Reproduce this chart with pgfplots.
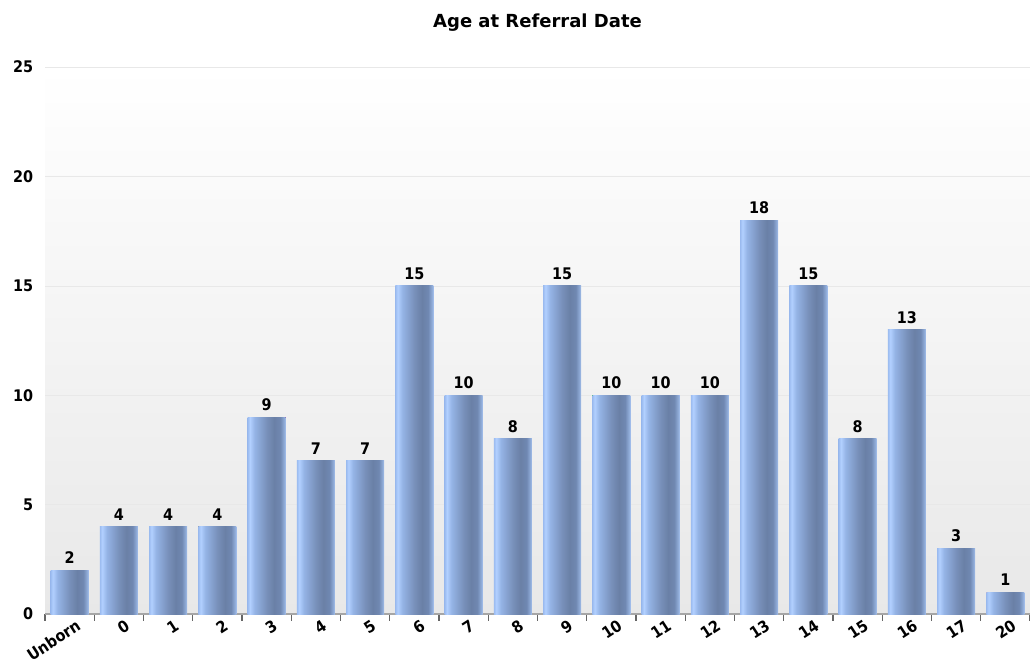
\documentclass[border=0pt]{standalone}
\usepackage{fontspec}
\setmainfont{DejaVu Sans}
\newfontfamily\condfont{DejaVu Sans Condensed}
\usepackage{pgfplots}
\pgfplotsset{compat=1.18}
\definecolor{b1}{HTML}{9CBCF0}
\definecolor{b2}{HTML}{B2D0FF}
\definecolor{b3}{HTML}{95B4E6}
\definecolor{b4}{HTML}{7890BA}
\definecolor{b5}{HTML}{6A80A6}
\definecolor{b6}{HTML}{7088B2}
\definecolor{b7}{HTML}{90ACD8}
\definecolor{b8}{HTML}{A4C0EE}
\pgfdeclarehorizontalshading{barshade}{100bp}{color(0bp)=(b1); color(25bp)=(b1); color(28bp)=(b2); color(34bp)=(b3); color(50bp)=(b4); color(60bp)=(b5); color(68bp)=(b6); color(73bp)=(b7); color(75bp)=(b8); color(100bp)=(b8)}

\begin{document}
\begin{tikzpicture}
\path[use as bounding box] (-33.75pt,-36.75pt) rectangle (738.75pt,460.5pt);
\begin{axis}[
    at={(0,0)}, anchor=south west,
    scale only axis,
    width=738.75pt, height=410.25pt,
    xmin=-0.5, xmax=19.5,
    ymin=0, ymax=25,
    ytick={0,5,...,25},
    xtick={0,...,19},
    xticklabels={Unborn,0,1,2,3,4,5,6,7,8,9,10,11,12,13,14,15,16,17,20},
    minor xtick={-0.5,0.5,...,19.5},
    major x tick style={draw=none},
    minor tick length=5pt,
    tick align=outside,
    minor x tick style={gray!80!black, thick},
    ytick style={draw=none},
    ymajorgrids,
    grid style={gray!18},
    axis x line*=bottom,
    axis y line*=left,
    y axis line style={draw=none},
    x axis line style={gray!70, thick, -},
    axis background/.style={top color=white, bottom color=black!9},
    x tick label style={font=\condfont\bfseries\fontsize{12}{13}\selectfont, rotate=33, anchor=north east, inner sep=0pt, yshift=-1.5pt, xshift=4pt},
    y tick label style={font=\condfont\bfseries\fontsize{12}{13}\selectfont, xshift=-1pt},
    title={\bfseries Age at Referral Date},
    title style={font=\fontsize{13.5}{15}\selectfont, yshift=17pt},
    /pgf/number format/assume math mode=true,
    ybar, bar width=0.77, bar shift=0pt,
    every axis plot post/.append style={draw=none, shading=barshade},
    nodes near coords,
    nodes near coords style={font=\condfont\bfseries\fontsize{12}{13}\selectfont, black, inner sep=0pt, yshift=4.5pt},
]
\addplot coordinates {(0,2)};
\addplot coordinates {(1,4)};
\addplot coordinates {(2,4)};
\addplot coordinates {(3,4)};
\addplot coordinates {(4,9)};
\addplot coordinates {(5,7)};
\addplot coordinates {(6,7)};
\addplot coordinates {(7,15)};
\addplot coordinates {(8,10)};
\addplot coordinates {(9,8)};
\addplot coordinates {(10,15)};
\addplot coordinates {(11,10)};
\addplot coordinates {(12,10)};
\addplot coordinates {(13,10)};
\addplot coordinates {(14,18)};
\addplot coordinates {(15,15)};
\addplot coordinates {(16,8)};
\addplot coordinates {(17,13)};
\addplot coordinates {(18,3)};
\addplot coordinates {(19,1)};
\end{axis}
\end{tikzpicture}
\end{document}
